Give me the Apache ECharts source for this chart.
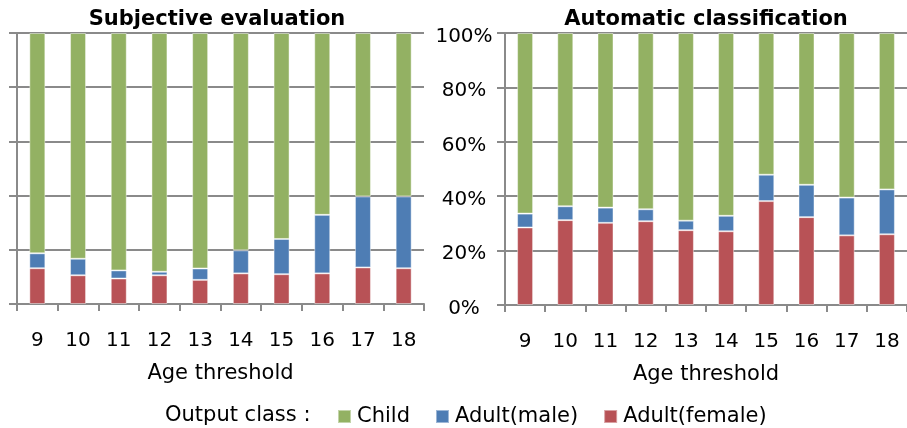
<!DOCTYPE html>
<html><head><meta charset="utf-8">
<script src="https://cdn.jsdelivr.net/npm/echarts@6/dist/echarts.min.js"></script>
<style>html,body{margin:0;padding:0;background:#fff}#c{width:907px;height:428px}</style>
</head><body><div id="c"></div>
<script>
const ages = ['9','10','11','12','13','14','15','16','17','18'];
const yTicks = ['0%','20%','40%','60%','80%','100%'];
// Subjective evaluation (percent)
const subjFemale = [13.2, 10.6, 9.4, 10.6, 8.9, 11.3, 11.0, 11.3, 13.5, 13.2];
const subjMale   = [5.5, 6.1, 3.0, 1.3, 4.2, 8.5, 13.0, 21.6, 26.2, 26.5];
const subjChild  = [81.3, 83.3, 87.6, 88.1, 86.9, 80.2, 76.0, 67.1, 60.3, 60.3];
// Automatic classification (percent)
const autoFemale = [28.5, 31.2, 30.2, 30.8, 27.5, 27.1, 38.2, 32.3, 25.6, 26.0];
const autoMale   = [5.1, 5.1, 5.6, 4.4, 3.5, 5.7, 9.7, 11.9, 13.9, 16.5];
const autoChild  = [66.4, 63.7, 64.2, 64.8, 69.0, 67.2, 52.1, 55.8, 60.5, 57.5];

const FONT = 'DejaVu Sans';
const GRAY = '#8a8a8a';
const C_CHILD = '#93B163', C_MALE = '#4E7DB4', C_FEMALE = '#B85256';

function xAxis(gi){
  return {
    type:'category', gridIndex:gi, data:ages,
    axisLine:{lineStyle:{color:GRAY,width:2}},
    axisTick:{show:true,length:7,lineStyle:{color:GRAY,width:2}},
    axisLabel:{color:'#000',fontFamily:FONT,fontSize:20,margin:27},
    name:'Age threshold', nameLocation:'middle', nameGap:59,
    nameTextStyle:{color:'#000',fontFamily:FONT,fontSize:21}
  };
}
function yAxis(gi, showLabels){
  return {
    type:'value', gridIndex:gi, min:0, max:100, interval:20,
    axisLine:{show:true,lineStyle:{color:GRAY,width:2}},
    axisTick:{show:true,length:8,lineStyle:{color:GRAY,width:2}},
    splitLine:{show:true,lineStyle:{color:GRAY,width:2}},
    axisLabel:{show:showLabels,color:'#000',fontFamily:FONT,fontSize:20,
      align:'center',margin:41,
      formatter:v=>'{p|'+yTicks[Math.round(v/20)]+'}',
      rich:{p:{fontFamily:FONT,fontSize:20,color:'#000',padding:[7,0,0,0]}}}
  };
}
function bar(name, data, color, gi){
  return {
    name, type:'bar', stack:'s'+gi, xAxisIndex:gi, yAxisIndex:gi,
    data, barWidth:16,
    itemStyle:{color, borderColor:'rgba(255,255,255,0.45)', borderWidth:1},
    emphasis:{disabled:true}
  };
}

const chart = echarts.init(document.getElementById('c'));
chart.setOption({
  animation:false,
  title:[
    {text:'Subjective evaluation', left:212, top:4, textAlign:'center',
     textStyle:{fontFamily:FONT,fontSize:21,fontWeight:'bold',color:'#000'}},
    {text:'Automatic classification', left:701, top:4, textAlign:'center',
     textStyle:{fontFamily:FONT,fontSize:21,fontWeight:'bold',color:'#000'}}
  ],
  grid:[
    {left:17, top:33, width:407, height:271},
    {left:505, top:33, width:410, height:272}
  ],
  xAxis:[xAxis(0), xAxis(1)],
  yAxis:[yAxis(0,false), yAxis(1,true)],
  legend:{
    data:['Child','Adult(male)','Adult(female)'],
    left:337, top:406, padding:0, itemWidth:13, itemHeight:13, itemGap:25,
    icon:'rect', selectedMode:false,
    textStyle:{fontFamily:FONT,fontSize:21,color:'#000',padding:[0,0,0,1]}
  },
  graphic:[{type:'text', left:165, top:405,
    style:{text:'Output class :', font:'21px "DejaVu Sans"', fill:'#000'}}],
  series:[
    bar('Adult(female)', subjFemale, C_FEMALE, 0),
    bar('Adult(male)', subjMale, C_MALE, 0),
    bar('Child', subjChild, C_CHILD, 0),
    bar('Adult(female)', autoFemale, C_FEMALE, 1),
    bar('Adult(male)', autoMale, C_MALE, 1),
    bar('Child', autoChild, C_CHILD, 1)
  ]
});
</script></body></html>
